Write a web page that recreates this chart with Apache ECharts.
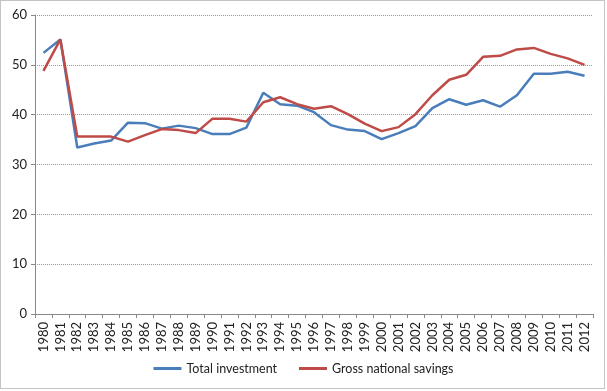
<!DOCTYPE html>
<html><head><meta charset="utf-8">
<script src="https://cdn.jsdelivr.net/npm/echarts@6/dist/echarts.min.js"></script>
<style>html,body{margin:0;padding:0;background:#fff}#c{width:607px;height:391px}</style>
</head><body><div id="c"></div>
<script>
const years = ['1980','1981','1982','1983','1984','1985','1986','1987','1988','1989','1990','1991','1992','1993','1994','1995','1996','1997','1998','1999','2000','2001','2002','2003','2004','2005','2006','2007','2008','2009','2010','2011','2012'];
const totalInvestment = [52.4,55.1,33.4,34.2,34.8,38.4,38.3,37.2,37.8,37.3,36.1,36.1,37.4,44.4,42.1,41.8,40.5,37.9,37.0,36.7,35.1,36.3,37.7,41.3,43.1,42.0,42.9,41.6,43.9,48.2,48.2,48.6,47.8];
const grossSavings = [48.8,55.1,35.6,35.6,35.6,34.6,35.9,37.1,36.9,36.3,39.2,39.2,38.6,42.5,43.5,42.1,41.2,41.7,40.1,38.2,36.7,37.5,40.1,43.9,47.0,48.0,51.6,51.8,53.1,53.4,52.2,51.3,50.0];
const yTicks = [0,10,20,30,40,50,60];

const font = 'Lato, "Open Sans", sans-serif';
const chart = echarts.init(document.getElementById('c'), null, {renderer:'canvas'});
chart.setOption({
  animation:false,
  backgroundColor:'#fff',
  graphic:[{type:'rect',shape:{x:0.5,y:0.5,width:604,height:388},style:{fill:'none',stroke:'#888',lineWidth:1,lineDash:[1,1]}}],
  grid:{left:35,right:14,top:15,bottom:77},
  legend:{bottom:11,left:'center',itemWidth:28,itemHeight:3,itemGap:22,icon:'rect',
    textStyle:{fontFamily:font,fontSize:12.5,color:'#222'},
    data:['Total investment','Gross national savings']},
  xAxis:{type:'category',data:years,boundaryGap:true,
    axisLine:{lineStyle:{color:'#888'}},
    axisTick:{show:true,length:4,lineStyle:{color:'#888'}},
    axisLabel:{rotate:90,interval:0,fontFamily:font,fontSize:13,color:'#222',margin:8}},
  yAxis:{type:'value',min:0,max:60,interval:10,
    axisLine:{show:true,lineStyle:{color:'#888'}},
    axisTick:{show:true,length:4,inside:false,lineStyle:{color:'#888'}},
    axisLabel:{fontFamily:font,fontSize:13,color:'#222',margin:8,
      formatter:v=>yTicks.includes(v)?String(v):''},
    splitLine:{lineStyle:{color:'#999',type:[1,1]}}},
  series:[
    {name:'Total investment',type:'line',data:totalInvestment,symbol:'none',
      lineStyle:{color:'#4a7ebb',width:2.5},itemStyle:{color:'#4a7ebb'}},
    {name:'Gross national savings',type:'line',data:grossSavings,symbol:'none',
      lineStyle:{color:'#be4b48',width:2.5},itemStyle:{color:'#be4b48'}}
  ]
});
</script></body></html>
